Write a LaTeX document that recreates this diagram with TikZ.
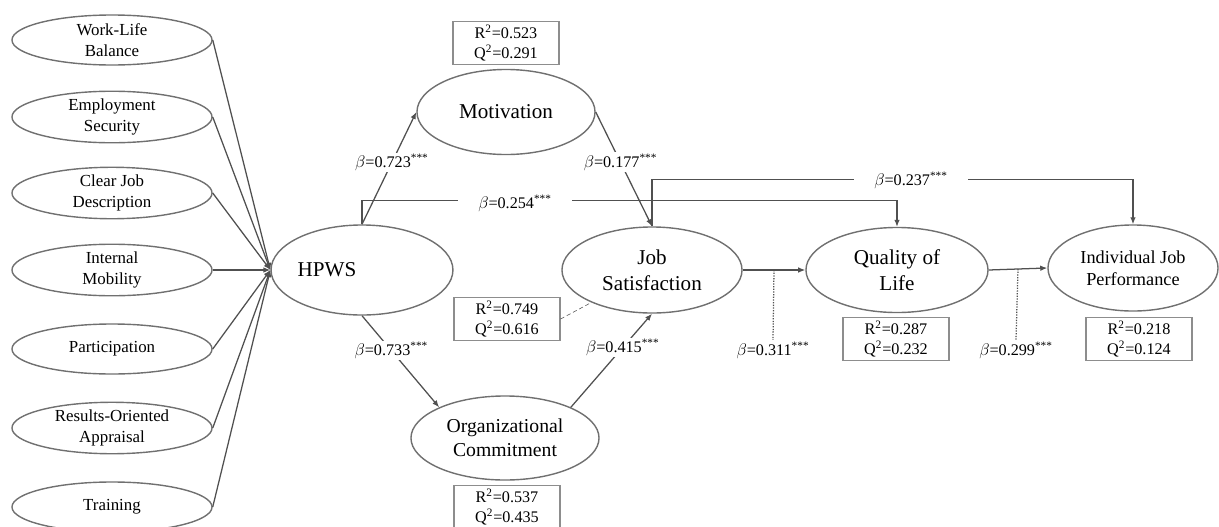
\documentclass[tikz,border=0pt]{standalone}
\usepackage{fontspec}
\setmainfont{Liberation Serif}
\usetikzlibrary{shapes.geometric,arrows.meta}
\definecolor{linie}{HTML}{505050}
\definecolor{rand}{HTML}{707070}
\tikzset{
 ind/.style={ellipse,draw=rand,line width=1pt,minimum width=5cm,minimum height=1.25cm,inner sep=0pt,align=center,font=\fontsize{12}{15}\selectfont},
 lat/.style={ellipse,draw=rand,line width=1pt,inner sep=0pt,align=center,font=\fontsize{15}{18.5}\selectfont},
 rq/.style={draw=rand!80,line width=.8pt,minimum width=2.65cm,minimum height=1.075cm,inner sep=0pt,align=center,font=\fontsize{11.5}{14}\selectfont},
 koef/.style={fill=white,inner sep=1pt,font=\fontsize{11.5}{14}\selectfont},
 pfeil/.style={draw=linie,line width=.9pt,-{Latex[length=5pt,width=4pt]}},
}
\begin{document}
\begin{tikzpicture}[x=0.025cm,y=-0.025cm]
\useasboundingbox (0,0) rectangle (1219,527);
%Indikatoren
\node[ind] (wlb) at (112,40) {Work-Life\\Balance};
\node[ind] (es) at (112,117) {Employment\\Security};
\node[ind] (cjd) at (112,193) {Clear Job\\Description};
\node[ind] (im) at (112,270) {Internal\\Mobility};
\node[ind] (par) at (112,349) {Participation};
\node[ind] (roa) at (112,428) {Results-Oriented\\Appraisal};
\node[ind] (tr) at (112,507) {Training};
%Konstrukte
\node[lat,minimum width=4.5cm,minimum height=2.25cm] (hpws) at (362,270) {HPWS\hspace*{1.75cm}};
\node[lat,minimum width=4.45cm,minimum height=2.125cm] (mot) at (506,112) {Motivation};
\node[lat,minimum width=4.5cm,minimum height=2.15cm] (js) at (652,270) {Job\\Satisfaction};
\node[lat,minimum width=4.7cm,minimum height=2.1cm,font=\fontsize{14}{17}\selectfont] (oc) at (505,438) {Organizational\\Commitment};
\node[lat,minimum width=4.55cm,minimum height=2.125cm] (qol) at (897,270) {Quality of\\Life};
\node[lat,minimum width=4.25cm,minimum height=2.15cm,font=\fontsize{13}{16}\selectfont] (ijp) at (1133,268) {Individual Job\\Performance};
%R2 Q2
\node[rq] (motbox) at (506,43) {R\textsuperscript{2}=0.523\\Q\textsuperscript{2}=0.291};
\node[rq] (jsbox) at (507,319) {R\textsuperscript{2}=0.749\\Q\textsuperscript{2}=0.616};
\node[rq] (ocbox) at (507,507) {R\textsuperscript{2}=0.537\\Q\textsuperscript{2}=0.435};
\node[rq] (qolbox) at (896,339) {R\textsuperscript{2}=0.287\\Q\textsuperscript{2}=0.232};
\node[rq] (ijpbox) at (1139,339) {R\textsuperscript{2}=0.218\\Q\textsuperscript{2}=0.124};
\draw[linie,dash pattern=on 3pt off 2pt] (jsbox.east) -- (js);
%Pfade
\foreach \n in {wlb,es,cjd,im,par,roa,tr}
 \draw[pfeil] (\n.east) -- (hpws.west);
\draw[pfeil] (hpws.north) -- node[koef,pos=.55] (b1) {$\beta$=0.723\textsuperscript{***}} (mot.west);
\draw[pfeil] (mot.east) -- node[koef,pos=.44] (b2) {$\beta$=0.177\textsuperscript{***}} (js.north);
\draw[pfeil] (hpws.south) -- node[koef,pos=.38] (b3) {$\beta$=0.733\textsuperscript{***}} (oc.155);
\draw[pfeil] (oc.25) -- node[koef,pos=.64] (b4) {$\beta$=0.415\textsuperscript{***}} (js.south);
\draw[pfeil] (hpws.north) -- ++(0,-24) -| (qol.north);
\node[koef,inner xsep=0.5cm] (b5) at (515,203) {$\beta$=0.254\textsuperscript{***}};
\draw[pfeil] (js.north) -- ++(0,-47) -| (ijp.north);
\node[koef,inner xsep=0.5cm] (b6) at (911,180) {$\beta$=0.237\textsuperscript{***}};
\draw[pfeil] (js.east) -- coordinate[pos=.5] (m1) (qol.west);
\draw[pfeil] (qol.east) -- coordinate[pos=.5] (m2) (ijp.west);
\node[koef] (b7) at (773,350) {$\beta$=0.311\textsuperscript{***}};
\node[koef] (b8) at (1016,350) {$\beta$=0.299\textsuperscript{***}};
\draw[linie,densely dotted,line width=.9pt] (m1) -- (b7.north);
\draw[linie,densely dotted,line width=.9pt] (m2) -- (b8.north);
\end{tikzpicture}
\end{document}
